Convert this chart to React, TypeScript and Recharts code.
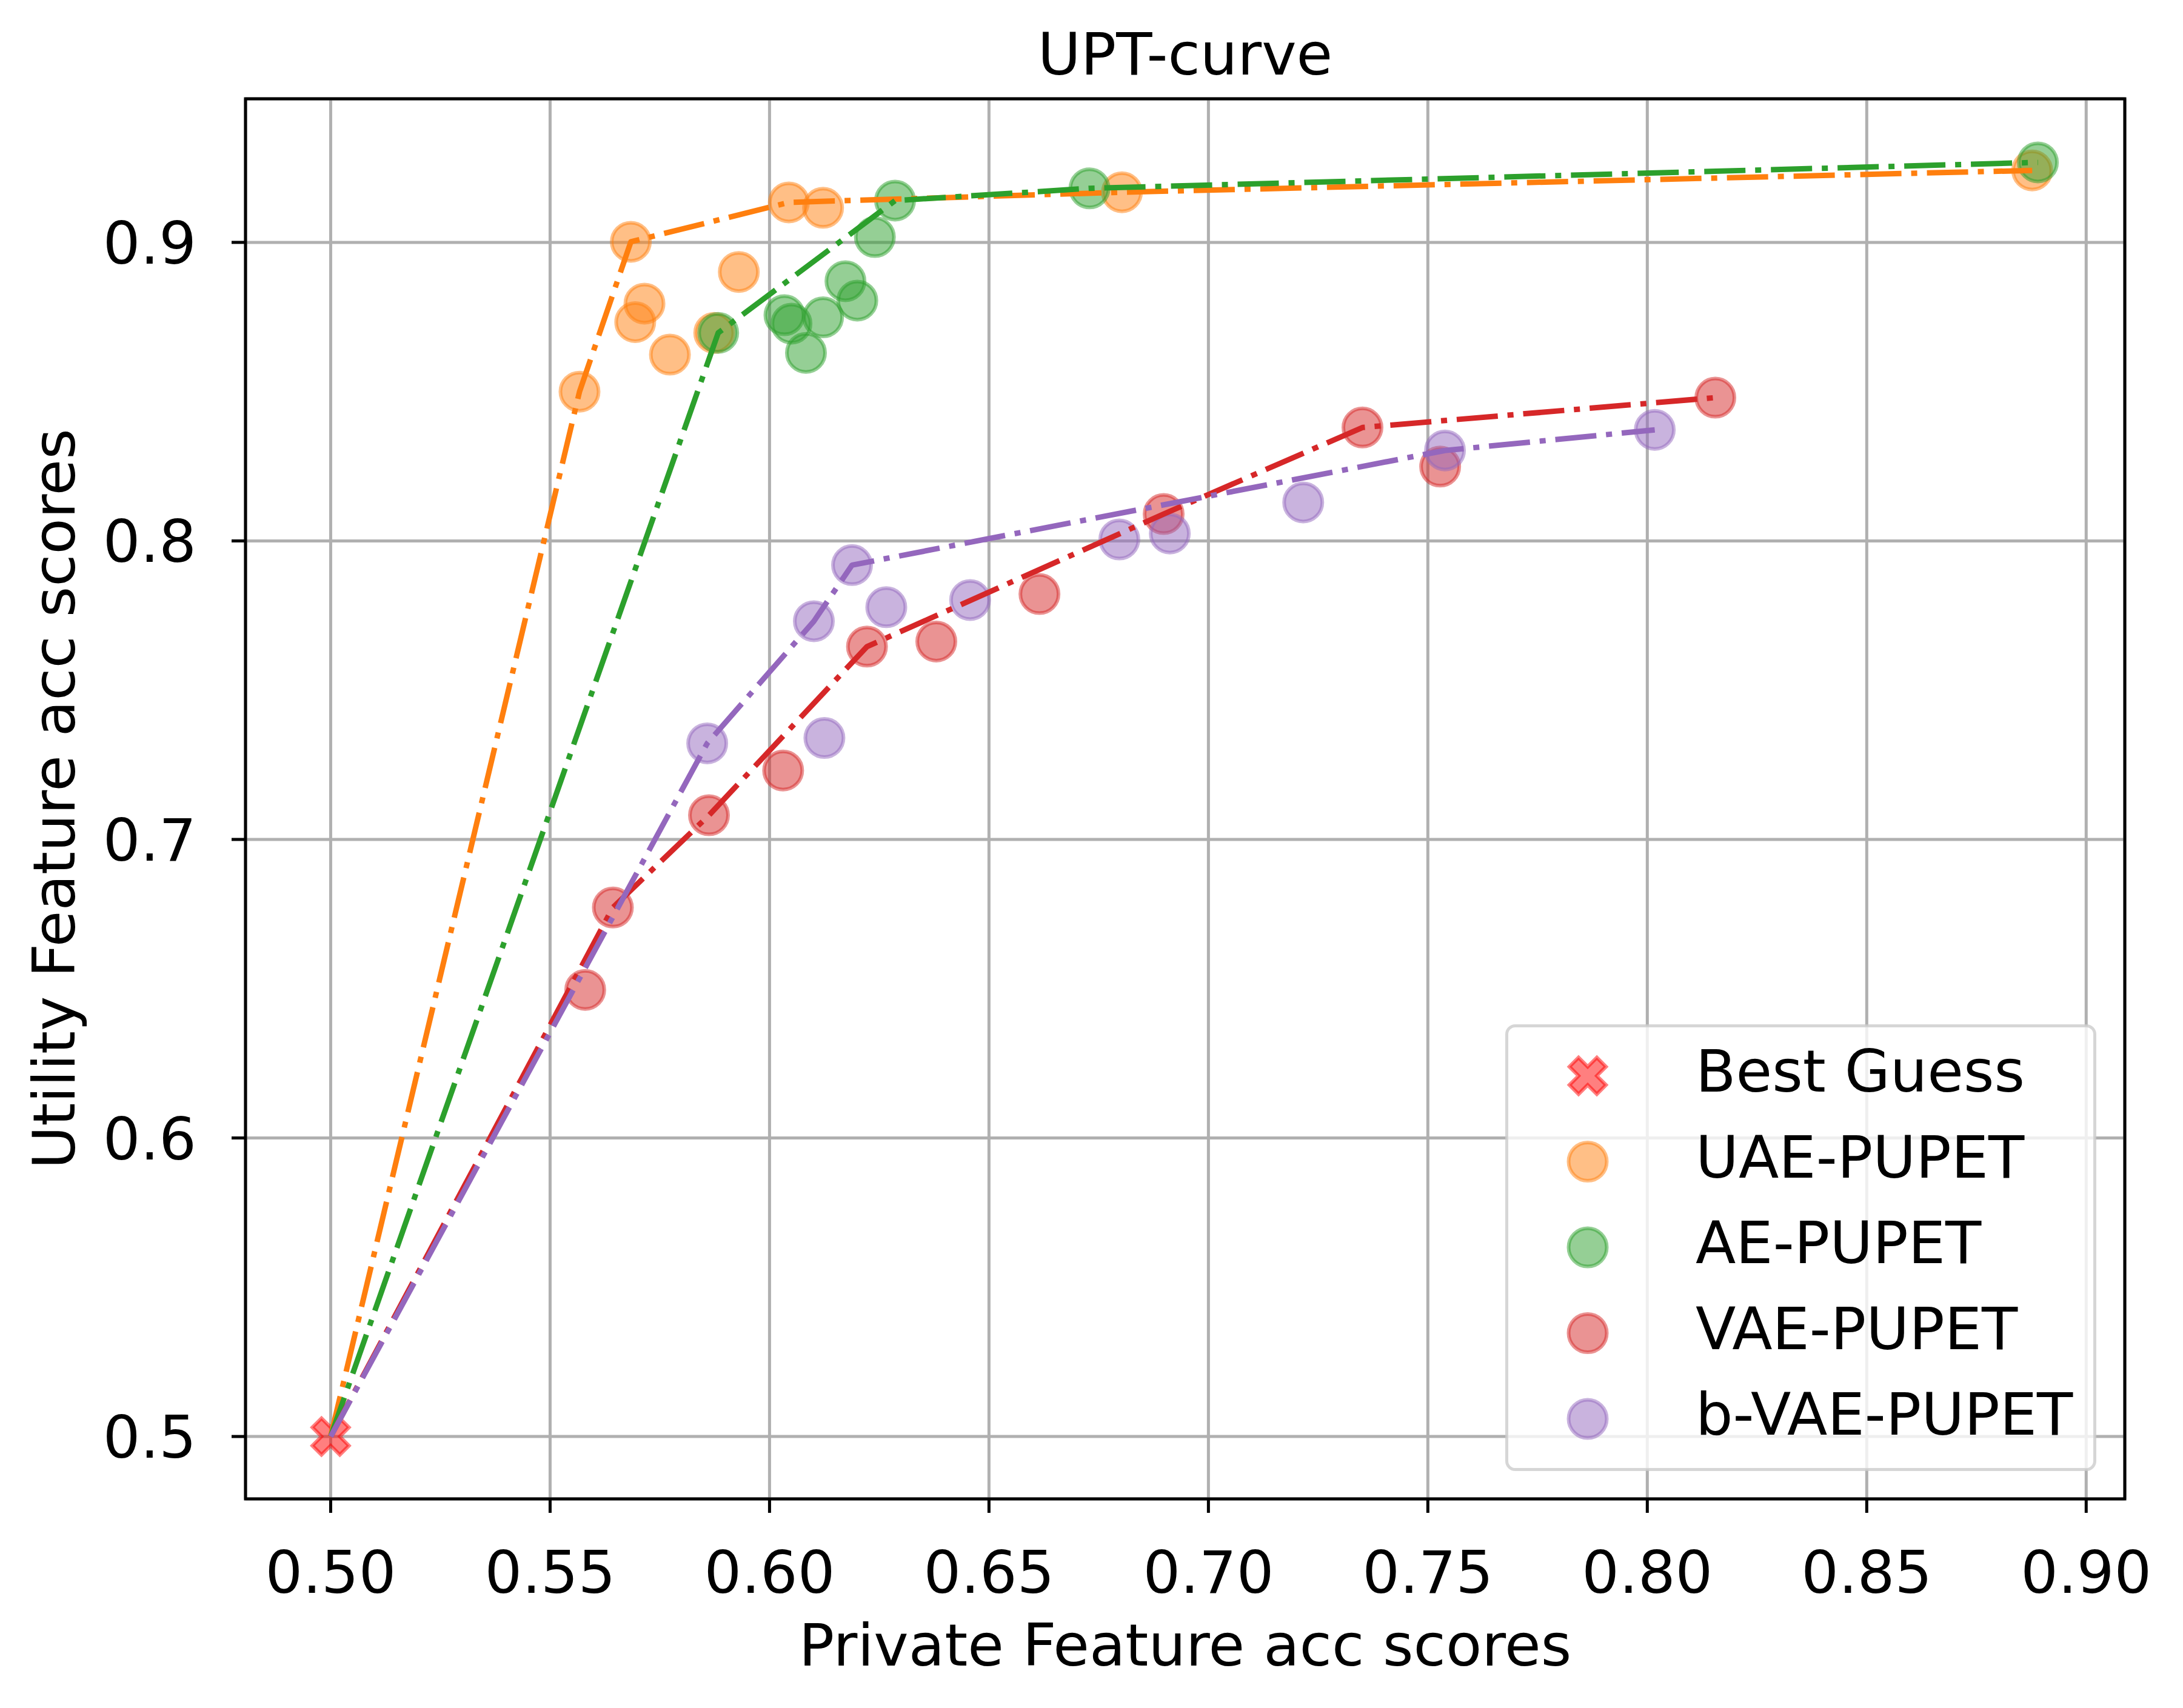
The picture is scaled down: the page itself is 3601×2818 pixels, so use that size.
import React from 'react';
import { ComposedChart, Scatter, XAxis, YAxis, CartesianGrid, ReferenceArea, Legend } from 'recharts';

// ---------- data ----------
const X_TICKS = [0.5, 0.55, 0.6, 0.65, 0.7, 0.75, 0.8, 0.85, 0.9];
const Y_TICKS = [0.5, 0.6, 0.7, 0.8, 0.9];
const X_DOMAIN = [0.4806, 0.9088];
const Y_DOMAIN = [0.4791, 0.9481];

const SERIES_NAMES = ['Best Guess', 'UAE-PUPET', 'AE-PUPET', 'VAE-PUPET', 'b-VAE-PUPET'];
const SERIES_COLORS = ['#ff0000', '#ff7f0e', '#2ca02c', '#d62728', '#9467bd'];

const BEST_X = [0.5];
const BEST_Y = [0.5];

const UAE_X = [0.5567, 0.5684, 0.5694, 0.5715, 0.5773, 0.5874, 0.593, 0.6044, 0.6122, 0.6803, 0.8877];
const UAE_Y = [0.85, 0.9002, 0.8733, 0.8795, 0.8624, 0.8697, 0.8901, 0.9134, 0.9116, 0.9168, 0.9241];

const AE_X = [0.5883, 0.6034, 0.605, 0.6083, 0.6122, 0.6173, 0.62, 0.624, 0.6286, 0.6729, 0.889];
const AE_Y = [0.8697, 0.8756, 0.8728, 0.863, 0.8749, 0.887, 0.8805, 0.9018, 0.914, 0.9181, 0.9268];

const VAE_X = [0.558, 0.5643, 0.5862, 0.6031, 0.6222, 0.638, 0.6615, 0.6898, 0.7351, 0.7528, 0.8155];
const VAE_Y = [0.6496, 0.6772, 0.7081, 0.7231, 0.7646, 0.7663, 0.7822, 0.809, 0.838, 0.8249, 0.848];

const BVAE_X = [0.5858, 0.6101, 0.6125, 0.6188, 0.6266, 0.6457, 0.6797, 0.6912, 0.7216, 0.7539, 0.8017];
const BVAE_Y = [0.7322, 0.7731, 0.734, 0.7919, 0.7778, 0.7802, 0.8005, 0.8025, 0.8129, 0.8303, 0.8372];

// frontier (UPT curve) vertices
const UAE_FRONT_X = [0.5, 0.5567, 0.5684, 0.6044, 0.6803, 0.8877];
const UAE_FRONT_Y = [0.5, 0.85, 0.9002, 0.9134, 0.9168, 0.9241];
const AE_FRONT_X = [0.5, 0.5883, 0.6286, 0.6729, 0.889];
const AE_FRONT_Y = [0.5, 0.8697, 0.914, 0.9181, 0.9268];
const VAE_FRONT_X = [0.5, 0.5643, 0.5862, 0.6222, 0.6898, 0.7351, 0.8155];
const VAE_FRONT_Y = [0.5, 0.6772, 0.7081, 0.7646, 0.809, 0.838, 0.848];
const BVAE_FRONT_X = [0.5, 0.5858, 0.6101, 0.6188, 0.7539, 0.8017];
const BVAE_FRONT_Y = [0.5, 0.7322, 0.7731, 0.7919, 0.8303, 0.8372];

// ---------- helpers ----------
const zip = (xs: number[], ys: number[]) => xs.map((x, i) => ({ x, y: ys[i] }));

const W = 3601;
const H = 2818;
const FONT = '"DejaVu Sans", sans-serif';
const FS = 97;
const MARKER_R = 31.5;
const MARKER_SW = 6;
const LINE_SW = 9;
const DASH = '68 16 10 16';

const circleAt = (cx: number, cy: number, color: string, key?: any) => (
  <circle
    key={key}
    cx={cx}
    cy={cy}
    r={MARKER_R}
    fill={color}
    fillOpacity={0.5}
    stroke={color}
    strokeOpacity={0.5}
    strokeWidth={MARKER_SW}
  />
);

const X_BASE = [
  [-1, -3], [-1, -1], [-3, -1], [-3, 1], [-1, 1], [-1, 3],
  [1, 3], [1, 1], [3, 1], [3, -1], [1, -1], [1, -3],
];
const xMarkerAt = (cx: number, cy: number, color: string, size: number) => {
  const s = size / 6;
  const pts = X_BASE.map(([a, b]) => {
    const rx = ((a - b) / Math.SQRT2) * s;
    const ry = ((a + b) / Math.SQRT2) * s;
    return `${(cx + rx).toFixed(2)},${(cy + ry).toFixed(2)}`;
  }).join(' ');
  return (
    <polygon
      points={pts}
      fill={color}
      fillOpacity={0.5}
      stroke={color}
      strokeOpacity={0.5}
      strokeWidth={MARKER_SW}
      strokeLinejoin="miter"
    />
  );
};

const circleShape = (color: string) => (props: any) => circleAt(props.cx, props.cy, color);
const xShape = (color: string) => (props: any) => xMarkerAt(props.cx, props.cy, color, 64);
const emptyShape = () => <g />;

// dash-dot polyline drawn through the chart's own scaled point positions
const curveLine = (color: string) => (props: any) => {
  const pts = (props.points || []) as any[];
  const d = pts.map((p, i) => `${i === 0 ? 'M' : 'L'}${p.x},${p.y}`).join(' ');
  return (
    <path
      d={d}
      fill="none"
      stroke={color}
      strokeWidth={LINE_SW}
      strokeDasharray={DASH}
      strokeLinejoin="round"
      strokeLinecap="butt"
    />
  );
};

const XTick = (props: any) => {
  const { x, y, payload } = props;
  return (
    <text x={x} y={y + 132} textAnchor="middle" fontFamily={FONT} fontSize={FS} fill="#000">
      {Number(payload.value).toFixed(2)}
    </text>
  );
};

const YTick = (props: any) => {
  const { x, y, payload } = props;
  return (
    <text x={x - 58} y={y + 35} textAnchor="end" fontFamily={FONT} fontSize={FS} fill="#000">
      {Number(payload.value).toFixed(1)}
    </text>
  );
};

const LEG_W = 975;
const LEG_H = 737;
const renderLegend = () => (
  <svg width={LEG_W} height={LEG_H} style={{ display: 'block', overflow: 'visible' }}>
    <rect
      x={2.5}
      y={2.5}
      width={LEG_W - 5}
      height={LEG_H - 5}
      rx={14}
      fill="#ffffff"
      fillOpacity={0.8}
      stroke="#cccccc"
      strokeOpacity={0.8}
      strokeWidth={5}
    />
    {SERIES_NAMES.map((name, i) => {
      const cy = 85 + i * 141.5;
      return (
        <g key={name}>
          {i === 0 ? xMarkerAt(136, cy, SERIES_COLORS[i], 64) : circleAt(136, cy, SERIES_COLORS[i])}
          <text x={314} y={111 + i * 141.5} fontFamily={FONT} fontSize={FS} fill="#000">
            {name}
          </text>
        </g>
      );
    })}
  </svg>
);

const PLOT_LEFT = 405;
const PLOT_RIGHT = 3505;
const PLOT_TOP = 163;
const PLOT_BOTTOM = 2473;
const CX = (PLOT_LEFT + PLOT_RIGHT) / 2;
const CY = (PLOT_TOP + PLOT_BOTTOM) / 2;

export default function App() {
  const best = zip(BEST_X, BEST_Y);
  const uae = zip(UAE_X, UAE_Y);
  const ae = zip(AE_X, AE_Y);
  const vae = zip(VAE_X, VAE_Y);
  const bvae = zip(BVAE_X, BVAE_Y);
  const fronts = [
    zip(UAE_FRONT_X, UAE_FRONT_Y),
    zip(AE_FRONT_X, AE_FRONT_Y),
    zip(VAE_FRONT_X, VAE_FRONT_Y),
    zip(BVAE_FRONT_X, BVAE_FRONT_Y),
  ];
  const pointSets = [uae, ae, vae, bvae];

  return (
    <div style={{ position: 'absolute', left: 0, top: 0, width: W, height: H, background: '#fff' }}>
      <ComposedChart
        width={W}
        height={H}
        margin={{ top: PLOT_TOP, right: W - PLOT_RIGHT, bottom: 0, left: 0 }}
      >
        <CartesianGrid stroke="#b0b0b0" strokeWidth={5} />
        <XAxis
          type="number"
          dataKey="x"
          domain={X_DOMAIN}
          ticks={X_TICKS}
          allowDataOverflow
          height={H - PLOT_BOTTOM}
          axisLine={false}
          tickLine={{ stroke: '#000', strokeWidth: 5 }}
          tickSize={23}
          tickMargin={0}
          tick={<XTick />}
          interval={0}
        />
        <YAxis
          type="number"
          dataKey="y"
          domain={Y_DOMAIN}
          ticks={Y_TICKS}
          allowDataOverflow
          width={PLOT_LEFT}
          axisLine={false}
          tickLine={{ stroke: '#000', strokeWidth: 5 }}
          tickSize={23}
          tickMargin={0}
          tick={<YTick />}
          interval={0}
        />
        <Scatter
          name={SERIES_NAMES[0]}
          data={best}
          shape={xShape(SERIES_COLORS[0])}
          isAnimationActive={false}
        />
        {pointSets.map((pts, i) => (
          <Scatter
            key={'pts' + i}
            name={SERIES_NAMES[i + 1]}
            data={pts}
            shape={circleShape(SERIES_COLORS[i + 1])}
            isAnimationActive={false}
          />
        ))}
        {fronts.map((pts, i) => (
          <Scatter
            key={'line' + i}
            name={SERIES_NAMES[i + 1] + ' curve'}
            legendType="none"
            data={pts}
            shape={emptyShape}
            fill={SERIES_COLORS[i + 1]}
            line={curveLine(SERIES_COLORS[i + 1])}
            isAnimationActive={false}
          />
        ))}
        <ReferenceArea
          x1={X_DOMAIN[0]}
          x2={X_DOMAIN[1]}
          y1={Y_DOMAIN[0]}
          y2={Y_DOMAIN[1]}
          fill="none"
          stroke="#000"
          strokeWidth={5}
          ifOverflow="visible"
        />
        <Legend
          layout="vertical"
          align="center"
          verticalAlign="middle"
          wrapperStyle={{ left: 2483, top: 1690, width: LEG_W, height: LEG_H }}
          content={renderLegend}
        />
        <text x={CX} y={123} textAnchor="middle" fontFamily={FONT} fontSize={FS} fill="#000">
          UPT-curve
        </text>
        <text x={CX} y={2748} textAnchor="middle" fontFamily={FONT} fontSize={FS} fill="#000">
          Private Feature acc scores
        </text>
        <text
          transform={`translate(123, ${CY}) rotate(-90)`}
          x={0}
          y={0}
          textAnchor="middle"
          fontFamily={FONT}
          fontSize={FS}
          fill="#000"
        >
          Utility Feature acc scores
        </text>
      </ComposedChart>
    </div>
  );
}
